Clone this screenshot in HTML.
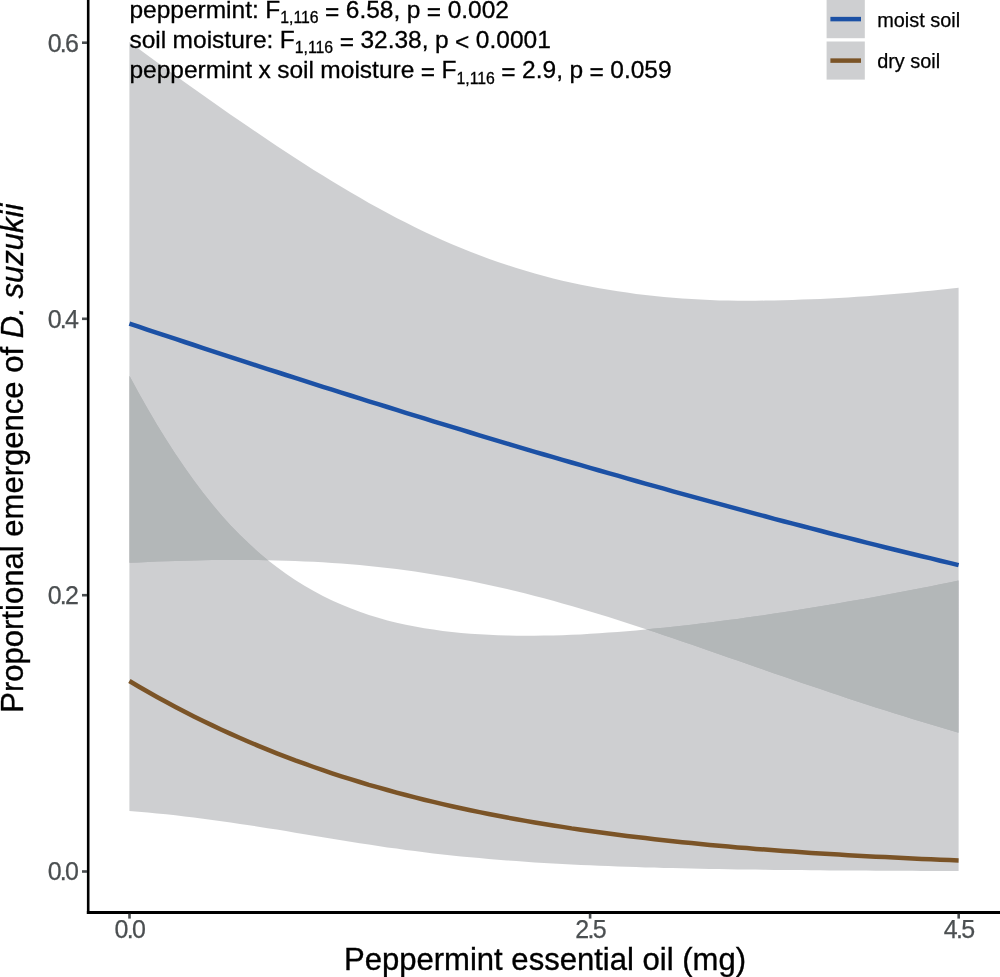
<!DOCTYPE html>
<html><head><meta charset="utf-8"><title>Proportional emergence of D. suzukii</title>
<style>html,body{margin:0;padding:0;background:#fff;}svg{display:block;}</style></head>
<body>
<svg width="1000" height="977" viewBox="0 0 1000 977" font-family="'Liberation Sans', Arial, Helvetica, sans-serif">
<rect width="1000" height="977" fill="#fff"/>
<path d="M129.4,42.1 L138.6,48.8 L147.8,55.6 L157.0,62.3 L166.3,68.9 L175.5,75.6 L184.7,82.2 L193.9,88.8 L203.1,95.3 L212.3,101.8 L221.5,108.3 L230.7,114.7 L240.0,121.0 L249.2,127.3 L258.4,133.5 L267.6,139.7 L276.8,145.9 L286.0,152.0 L295.2,158.1 L304.5,164.0 L313.7,169.9 L322.9,175.6 L332.1,181.3 L341.3,186.8 L350.5,192.3 L359.7,197.6 L368.9,202.9 L378.2,208.0 L387.4,213.0 L396.6,217.9 L405.8,222.6 L415.0,227.3 L424.2,231.7 L433.4,236.1 L442.7,240.3 L451.9,244.2 L461.1,248.1 L470.3,251.7 L479.5,255.3 L488.7,258.7 L497.9,261.9 L507.1,265.0 L516.4,268.0 L525.6,270.8 L534.8,273.5 L544.0,276.0 L553.2,278.4 L562.4,280.7 L571.6,282.8 L580.9,284.7 L590.1,286.5 L599.3,288.2 L608.5,289.8 L617.7,291.3 L626.9,292.6 L636.1,293.9 L645.3,295.0 L654.6,296.0 L663.8,296.9 L673.0,297.7 L682.2,298.4 L691.4,299.1 L700.6,299.6 L709.8,300.0 L719.1,300.4 L728.3,300.6 L737.5,300.7 L746.7,300.7 L755.9,300.7 L765.1,300.6 L774.3,300.4 L783.5,300.2 L792.8,299.9 L802.0,299.6 L811.2,299.2 L820.4,298.9 L829.6,298.4 L838.8,297.9 L848.0,297.4 L857.3,296.8 L866.5,296.2 L875.7,295.5 L884.9,294.8 L894.1,294.1 L903.3,293.3 L912.5,292.4 L921.7,291.6 L931.0,290.7 L940.2,289.8 L949.4,288.8 L958.6,287.8 L958.6,732.7 L949.4,730.0 L940.2,727.3 L931.0,724.6 L921.7,721.8 L912.5,719.0 L903.3,716.1 L894.1,713.2 L884.9,710.3 L875.7,707.4 L866.5,704.4 L857.3,701.4 L848.0,698.4 L838.8,695.3 L829.6,692.2 L820.4,689.1 L811.2,686.0 L802.0,682.9 L792.8,679.7 L783.5,676.6 L774.3,673.4 L765.1,670.2 L755.9,667.0 L746.7,663.8 L737.5,660.6 L728.3,657.4 L719.1,654.2 L709.8,651.0 L700.6,647.8 L691.4,644.6 L682.2,641.5 L673.0,638.3 L663.8,635.2 L654.6,632.1 L645.3,629.0 L636.1,626.0 L626.9,623.0 L617.7,620.1 L608.5,617.1 L599.3,614.3 L590.1,611.5 L580.9,608.7 L571.6,606.0 L562.4,603.4 L553.2,600.8 L544.0,598.3 L534.8,595.9 L525.6,593.5 L516.4,591.2 L507.1,589.0 L497.9,586.9 L488.7,584.9 L479.5,582.9 L470.3,581.0 L461.1,579.2 L451.9,577.5 L442.7,575.9 L433.4,574.4 L424.2,572.9 L415.0,571.5 L405.8,570.3 L396.6,569.1 L387.4,567.9 L378.2,566.9 L368.9,566.0 L359.7,565.1 L350.5,564.3 L341.3,563.6 L332.1,562.9 L322.9,562.3 L313.7,561.8 L304.5,561.4 L295.2,561.0 L286.0,560.7 L276.8,560.4 L267.6,560.2 L258.4,560.0 L249.2,560.0 L240.0,559.9 L230.7,559.9 L221.5,560.0 L212.3,560.1 L203.1,560.2 L193.9,560.4 L184.7,560.7 L175.5,560.9 L166.3,561.2 L157.0,561.6 L147.8,562.0 L138.6,562.4 L129.4,562.8Z" fill="#9da0a3" fill-opacity="0.5"/>
<path d="M129.4,375.8 L138.6,392.8 L147.8,409.1 L157.0,424.7 L166.3,439.7 L175.5,454.0 L184.7,467.6 L193.9,480.5 L203.1,492.7 L212.3,504.3 L221.5,515.3 L230.7,525.4 L240.0,534.9 L249.2,543.8 L258.4,552.2 L267.6,559.9 L276.8,567.1 L286.0,573.8 L295.2,580.0 L304.5,585.8 L313.7,591.1 L322.9,596.0 L332.1,600.5 L341.3,604.6 L350.5,608.3 L359.7,611.8 L368.9,614.9 L378.2,617.8 L387.4,620.4 L396.6,622.7 L405.8,624.7 L415.0,626.6 L424.2,628.2 L433.4,629.6 L442.7,630.9 L451.9,631.9 L461.1,632.9 L470.3,633.7 L479.5,634.3 L488.7,634.8 L497.9,635.2 L507.1,635.5 L516.4,635.7 L525.6,635.8 L534.8,635.7 L544.0,635.6 L553.2,635.5 L562.4,635.2 L571.6,634.8 L580.9,634.4 L590.1,633.8 L599.3,633.3 L608.5,632.6 L617.7,631.9 L626.9,631.2 L636.1,630.4 L645.3,629.5 L654.6,628.6 L663.8,627.7 L673.0,626.8 L682.2,625.8 L691.4,624.7 L700.6,623.6 L709.8,622.5 L719.1,621.3 L728.3,620.1 L737.5,618.9 L746.7,617.6 L755.9,616.3 L765.1,615.0 L774.3,613.6 L783.5,612.2 L792.8,610.8 L802.0,609.3 L811.2,607.8 L820.4,606.3 L829.6,604.8 L838.8,603.2 L848.0,601.6 L857.3,600.0 L866.5,598.4 L875.7,596.7 L884.9,595.0 L894.1,593.3 L903.3,591.6 L912.5,589.8 L921.7,588.0 L931.0,586.2 L940.2,584.3 L949.4,582.5 L958.6,580.6 L958.6,871.0 L949.4,870.9 L940.2,870.9 L931.0,870.9 L921.7,870.9 L912.5,870.8 L903.3,870.8 L894.1,870.7 L884.9,870.7 L875.7,870.7 L866.5,870.6 L857.3,870.6 L848.0,870.5 L838.8,870.4 L829.6,870.4 L820.4,870.3 L811.2,870.2 L802.0,870.1 L792.8,870.1 L783.5,870.0 L774.3,869.9 L765.1,869.8 L755.9,869.6 L746.7,869.5 L737.5,869.4 L728.3,869.2 L719.1,869.1 L709.8,868.9 L700.6,868.7 L691.4,868.5 L682.2,868.3 L673.0,868.1 L663.8,867.9 L654.6,867.6 L645.3,867.4 L636.1,867.1 L626.9,866.8 L617.7,866.5 L608.5,866.1 L599.3,865.7 L590.1,865.3 L580.9,864.9 L571.6,864.5 L562.4,864.0 L553.2,863.5 L544.0,862.9 L534.8,862.4 L525.6,861.7 L516.4,861.1 L507.1,860.4 L497.9,859.7 L488.7,858.9 L479.5,858.1 L470.3,857.3 L461.1,856.4 L451.9,855.4 L442.7,854.4 L433.4,853.4 L424.2,852.3 L415.0,851.1 L405.8,849.9 L396.6,848.6 L387.4,847.4 L378.2,846.0 L368.9,844.6 L359.7,843.2 L350.5,841.8 L341.3,840.3 L332.1,838.8 L322.9,837.3 L313.7,835.8 L304.5,834.2 L295.2,832.7 L286.0,831.1 L276.8,829.6 L267.6,828.2 L258.4,826.7 L249.2,825.3 L240.0,823.9 L230.7,822.5 L221.5,821.2 L212.3,819.9 L203.1,818.7 L193.9,817.5 L184.7,816.4 L175.5,815.3 L166.3,814.3 L157.0,813.4 L147.8,812.5 L138.6,811.7 L129.4,811.0Z" fill="#9da0a3" fill-opacity="0.5"/>
<clipPath id="mclip"><path d="M129.4,42.1 L138.6,48.8 L147.8,55.6 L157.0,62.3 L166.3,68.9 L175.5,75.6 L184.7,82.2 L193.9,88.8 L203.1,95.3 L212.3,101.8 L221.5,108.3 L230.7,114.7 L240.0,121.0 L249.2,127.3 L258.4,133.5 L267.6,139.7 L276.8,145.9 L286.0,152.0 L295.2,158.1 L304.5,164.0 L313.7,169.9 L322.9,175.6 L332.1,181.3 L341.3,186.8 L350.5,192.3 L359.7,197.6 L368.9,202.9 L378.2,208.0 L387.4,213.0 L396.6,217.9 L405.8,222.6 L415.0,227.3 L424.2,231.7 L433.4,236.1 L442.7,240.3 L451.9,244.2 L461.1,248.1 L470.3,251.7 L479.5,255.3 L488.7,258.7 L497.9,261.9 L507.1,265.0 L516.4,268.0 L525.6,270.8 L534.8,273.5 L544.0,276.0 L553.2,278.4 L562.4,280.7 L571.6,282.8 L580.9,284.7 L590.1,286.5 L599.3,288.2 L608.5,289.8 L617.7,291.3 L626.9,292.6 L636.1,293.9 L645.3,295.0 L654.6,296.0 L663.8,296.9 L673.0,297.7 L682.2,298.4 L691.4,299.1 L700.6,299.6 L709.8,300.0 L719.1,300.4 L728.3,300.6 L737.5,300.7 L746.7,300.7 L755.9,300.7 L765.1,300.6 L774.3,300.4 L783.5,300.2 L792.8,299.9 L802.0,299.6 L811.2,299.2 L820.4,298.9 L829.6,298.4 L838.8,297.9 L848.0,297.4 L857.3,296.8 L866.5,296.2 L875.7,295.5 L884.9,294.8 L894.1,294.1 L903.3,293.3 L912.5,292.4 L921.7,291.6 L931.0,290.7 L940.2,289.8 L949.4,288.8 L958.6,287.8 L958.6,732.7 L949.4,730.0 L940.2,727.3 L931.0,724.6 L921.7,721.8 L912.5,719.0 L903.3,716.1 L894.1,713.2 L884.9,710.3 L875.7,707.4 L866.5,704.4 L857.3,701.4 L848.0,698.4 L838.8,695.3 L829.6,692.2 L820.4,689.1 L811.2,686.0 L802.0,682.9 L792.8,679.7 L783.5,676.6 L774.3,673.4 L765.1,670.2 L755.9,667.0 L746.7,663.8 L737.5,660.6 L728.3,657.4 L719.1,654.2 L709.8,651.0 L700.6,647.8 L691.4,644.6 L682.2,641.5 L673.0,638.3 L663.8,635.2 L654.6,632.1 L645.3,629.0 L636.1,626.0 L626.9,623.0 L617.7,620.1 L608.5,617.1 L599.3,614.3 L590.1,611.5 L580.9,608.7 L571.6,606.0 L562.4,603.4 L553.2,600.8 L544.0,598.3 L534.8,595.9 L525.6,593.5 L516.4,591.2 L507.1,589.0 L497.9,586.9 L488.7,584.9 L479.5,582.9 L470.3,581.0 L461.1,579.2 L451.9,577.5 L442.7,575.9 L433.4,574.4 L424.2,572.9 L415.0,571.5 L405.8,570.3 L396.6,569.1 L387.4,567.9 L378.2,566.9 L368.9,566.0 L359.7,565.1 L350.5,564.3 L341.3,563.6 L332.1,562.9 L322.9,562.3 L313.7,561.8 L304.5,561.4 L295.2,561.0 L286.0,560.7 L276.8,560.4 L267.6,560.2 L258.4,560.0 L249.2,560.0 L240.0,559.9 L230.7,559.9 L221.5,560.0 L212.3,560.1 L203.1,560.2 L193.9,560.4 L184.7,560.7 L175.5,560.9 L166.3,561.2 L157.0,561.6 L147.8,562.0 L138.6,562.4 L129.4,562.8Z"/></clipPath>
<path d="M129.4,375.8 L138.6,392.8 L147.8,409.1 L157.0,424.7 L166.3,439.7 L175.5,454.0 L184.7,467.6 L193.9,480.5 L203.1,492.7 L212.3,504.3 L221.5,515.3 L230.7,525.4 L240.0,534.9 L249.2,543.8 L258.4,552.2 L267.6,559.9 L276.8,567.1 L286.0,573.8 L295.2,580.0 L304.5,585.8 L313.7,591.1 L322.9,596.0 L332.1,600.5 L341.3,604.6 L350.5,608.3 L359.7,611.8 L368.9,614.9 L378.2,617.8 L387.4,620.4 L396.6,622.7 L405.8,624.7 L415.0,626.6 L424.2,628.2 L433.4,629.6 L442.7,630.9 L451.9,631.9 L461.1,632.9 L470.3,633.7 L479.5,634.3 L488.7,634.8 L497.9,635.2 L507.1,635.5 L516.4,635.7 L525.6,635.8 L534.8,635.7 L544.0,635.6 L553.2,635.5 L562.4,635.2 L571.6,634.8 L580.9,634.4 L590.1,633.8 L599.3,633.3 L608.5,632.6 L617.7,631.9 L626.9,631.2 L636.1,630.4 L645.3,629.5 L654.6,628.6 L663.8,627.7 L673.0,626.8 L682.2,625.8 L691.4,624.7 L700.6,623.6 L709.8,622.5 L719.1,621.3 L728.3,620.1 L737.5,618.9 L746.7,617.6 L755.9,616.3 L765.1,615.0 L774.3,613.6 L783.5,612.2 L792.8,610.8 L802.0,609.3 L811.2,607.8 L820.4,606.3 L829.6,604.8 L838.8,603.2 L848.0,601.6 L857.3,600.0 L866.5,598.4 L875.7,596.7 L884.9,595.0 L894.1,593.3 L903.3,591.6 L912.5,589.8 L921.7,588.0 L931.0,586.2 L940.2,584.3 L949.4,582.5 L958.6,580.6 L958.6,871.0 L949.4,870.9 L940.2,870.9 L931.0,870.9 L921.7,870.9 L912.5,870.8 L903.3,870.8 L894.1,870.7 L884.9,870.7 L875.7,870.7 L866.5,870.6 L857.3,870.6 L848.0,870.5 L838.8,870.4 L829.6,870.4 L820.4,870.3 L811.2,870.2 L802.0,870.1 L792.8,870.1 L783.5,870.0 L774.3,869.9 L765.1,869.8 L755.9,869.6 L746.7,869.5 L737.5,869.4 L728.3,869.2 L719.1,869.1 L709.8,868.9 L700.6,868.7 L691.4,868.5 L682.2,868.3 L673.0,868.1 L663.8,867.9 L654.6,867.6 L645.3,867.4 L636.1,867.1 L626.9,866.8 L617.7,866.5 L608.5,866.1 L599.3,865.7 L590.1,865.3 L580.9,864.9 L571.6,864.5 L562.4,864.0 L553.2,863.5 L544.0,862.9 L534.8,862.4 L525.6,861.7 L516.4,861.1 L507.1,860.4 L497.9,859.7 L488.7,858.9 L479.5,858.1 L470.3,857.3 L461.1,856.4 L451.9,855.4 L442.7,854.4 L433.4,853.4 L424.2,852.3 L415.0,851.1 L405.8,849.9 L396.6,848.6 L387.4,847.4 L378.2,846.0 L368.9,844.6 L359.7,843.2 L350.5,841.8 L341.3,840.3 L332.1,838.8 L322.9,837.3 L313.7,835.8 L304.5,834.2 L295.2,832.7 L286.0,831.1 L276.8,829.6 L267.6,828.2 L258.4,826.7 L249.2,825.3 L240.0,823.9 L230.7,822.5 L221.5,821.2 L212.3,819.9 L203.1,818.7 L193.9,817.5 L184.7,816.4 L175.5,815.3 L166.3,814.3 L157.0,813.4 L147.8,812.5 L138.6,811.7 L129.4,811.0Z" fill="#b3b7b8" clip-path="url(#mclip)"/>
<polyline points="129.4,323.6 138.6,326.7 147.8,329.8 157.0,332.8 166.3,335.9 175.5,338.9 184.7,342.0 193.9,345.0 203.1,348.1 212.3,351.1 221.5,354.1 230.7,357.1 240.0,360.1 249.2,363.1 258.4,366.1 267.6,369.1 276.8,372.0 286.0,375.0 295.2,377.9 304.5,380.9 313.7,383.8 322.9,386.8 332.1,389.7 341.3,392.6 350.5,395.5 359.7,398.4 368.9,401.3 378.2,404.2 387.4,407.0 396.6,409.9 405.8,412.8 415.0,415.6 424.2,418.4 433.4,421.3 442.7,424.1 451.9,426.9 461.1,429.7 470.3,432.5 479.5,435.3 488.7,438.1 497.9,440.8 507.1,443.6 516.4,446.3 525.6,449.1 534.8,451.8 544.0,454.5 553.2,457.2 562.4,459.8 571.6,462.5 580.9,465.2 590.1,467.8 599.3,470.5 608.5,473.1 617.7,475.7 626.9,478.4 636.1,481.0 645.3,483.6 654.6,486.1 663.8,488.7 673.0,491.3 682.2,493.8 691.4,496.4 700.6,498.9 709.8,501.4 719.1,503.9 728.3,506.4 737.5,508.9 746.7,511.4 755.9,513.9 765.1,516.3 774.3,518.8 783.5,521.2 792.8,523.6 802.0,526.0 811.2,528.4 820.4,530.8 829.6,533.2 838.8,535.6 848.0,537.9 857.3,540.3 866.5,542.6 875.7,544.9 884.9,547.2 894.1,549.5 903.3,551.7 912.5,554.0 921.7,556.2 931.0,558.4 940.2,560.7 949.4,562.9 958.6,565.1" fill="none" stroke="#1c51a5" stroke-width="4.5"/>
<polyline points="129.4,681.0 138.6,686.5 147.8,691.8 157.0,697.0 166.3,702.0 175.5,706.9 184.7,711.7 193.9,716.4 203.1,721.0 212.3,725.4 221.5,729.7 230.7,733.9 240.0,738.0 249.2,742.0 258.4,745.9 267.6,749.7 276.8,753.4 286.0,756.9 295.2,760.4 304.5,763.7 313.7,767.0 322.9,770.2 332.1,773.3 341.3,776.3 350.5,779.2 359.7,782.0 368.9,784.8 378.2,787.4 387.4,790.0 396.6,792.6 405.8,795.0 415.0,797.4 424.2,799.7 433.4,801.9 442.7,804.1 451.9,806.2 461.1,808.2 470.3,810.2 479.5,812.1 488.7,814.0 497.9,815.8 507.1,817.5 516.4,819.2 525.6,820.9 534.8,822.5 544.0,824.0 553.2,825.5 562.4,826.9 571.6,828.4 580.9,829.7 590.1,831.0 599.3,832.3 608.5,833.6 617.7,834.8 626.9,835.9 636.1,837.1 645.3,838.1 654.6,839.2 663.8,840.2 673.0,841.2 682.2,842.2 691.4,843.1 700.6,844.0 709.8,844.9 719.1,845.8 728.3,846.6 737.5,847.4 746.7,848.1 755.9,848.9 765.1,849.6 774.3,850.3 783.5,851.0 792.8,851.6 802.0,852.3 811.2,852.9 820.4,853.5 829.6,854.1 838.8,854.6 848.0,855.2 857.3,855.7 866.5,856.2 875.7,856.7 884.9,857.1 894.1,857.6 903.3,858.0 912.5,858.5 921.7,858.9 931.0,859.3 940.2,859.7 949.4,860.1 958.6,860.4" fill="none" stroke="#7b5427" stroke-width="4.5"/>
<g stroke="#000" fill="none">
<line x1="88.2" y1="0" x2="88.2" y2="913.9" stroke-width="2.6"/>
<line x1="86.85" y1="912.5" x2="1000" y2="912.5" stroke-width="2.8"/>
</g>
<g stroke="#4b4f51" stroke-width="2.6">
<line x1="82" y1="42.7" x2="87" y2="42.7"/>
<line x1="82" y1="318.8" x2="87" y2="318.8"/>
<line x1="82" y1="595.2" x2="87" y2="595.2"/>
<line x1="82" y1="871.5" x2="87" y2="871.5"/>
<line x1="129.5" y1="913.8" x2="129.5" y2="918.6"/>
<line x1="590.1" y1="913.8" x2="590.1" y2="918.6"/>
<line x1="958.7" y1="913.8" x2="958.7" y2="918.6"/>
</g>
<g font-size="25" fill="#4b4f51" stroke="#4b4f51" stroke-width="0.25" text-anchor="end" letter-spacing="-1.7">
<text x="77.3" y="51.7">0.6</text>
<text x="77.3" y="327.9">0.4</text>
<text x="77.3" y="604.2">0.2</text>
<text x="77.3" y="880.3">0.0</text>
</g>
<g font-size="25" fill="#4b4f51" stroke="#4b4f51" stroke-width="0.25" text-anchor="middle" letter-spacing="-1.7">
<text x="129.4" y="937.6">0.0</text>
<text x="590.1" y="937.6">2.5</text>
<text x="958.6" y="937.6">4.5</text>
</g>
<text x="545" y="969.8" font-size="31.05" fill="#000" stroke="#000" stroke-width="0.35" text-anchor="middle">Peppermint essential oil (mg)</text>
<text transform="translate(23,458.2) rotate(-90)" font-size="31.05" fill="#000" stroke="#000" stroke-width="0.35" text-anchor="middle">Proportional emergence of <tspan font-style="italic">D. suzukii</tspan></text>
<text x="129.4" y="17.9" font-size="24.5" fill="#000" stroke="#000" stroke-width="0.3" word-spacing="-0.35" xml:space="preserve">peppermint: F<tspan font-size="15.8" dy="5.4">1,116</tspan><tspan dy="-5.4"> </tspan><tspan dy="1.8">=</tspan><tspan dy="-1.8"> </tspan>6.58, p <tspan dy="1.8">=</tspan><tspan dy="-1.8"> </tspan>0.002</text>
<text x="129.4" y="48.0" font-size="24.5" fill="#000" stroke="#000" stroke-width="0.3" word-spacing="-0.35" xml:space="preserve">soil moisture: F<tspan font-size="15.8" dy="5.4">1,116</tspan><tspan dy="-5.4"> </tspan><tspan dy="1.8">=</tspan><tspan dy="-1.8"> </tspan>32.38, p <tspan dy="1.8">&lt;</tspan><tspan dy="-1.8"> </tspan>0.0001</text>
<text x="129.4" y="78.2" font-size="24.5" fill="#000" stroke="#000" stroke-width="0.3" word-spacing="-0.35" xml:space="preserve">peppermint x soil moisture <tspan dy="1.8">=</tspan><tspan dy="-1.8"> </tspan>F<tspan font-size="15.8" dy="5.4">1,116</tspan><tspan dy="-5.4"> </tspan><tspan dy="1.8">=</tspan><tspan dy="-1.8"> </tspan>2.9, p <tspan dy="1.8">=</tspan><tspan dy="-1.8"> </tspan>0.059</text>
<rect x="826.6" y="0" width="38.2" height="38.2" fill="#9da0a3" fill-opacity="0.5"/>
<rect x="826.6" y="41.5" width="38.2" height="38.1" fill="#9da0a3" fill-opacity="0.5"/>
<line x1="830.4" y1="19.1" x2="861" y2="19.1" stroke="#1c51a5" stroke-width="4.5"/>
<line x1="830.4" y1="60.6" x2="861" y2="60.6" stroke="#7b5427" stroke-width="4.5"/>
<g font-size="19.9" fill="#000" stroke="#000" stroke-width="0.25">
<text x="877.2" y="26.6">moist soil</text>
<text x="877.2" y="68.1">dry soil</text>
</g>
</svg>
</body></html>
